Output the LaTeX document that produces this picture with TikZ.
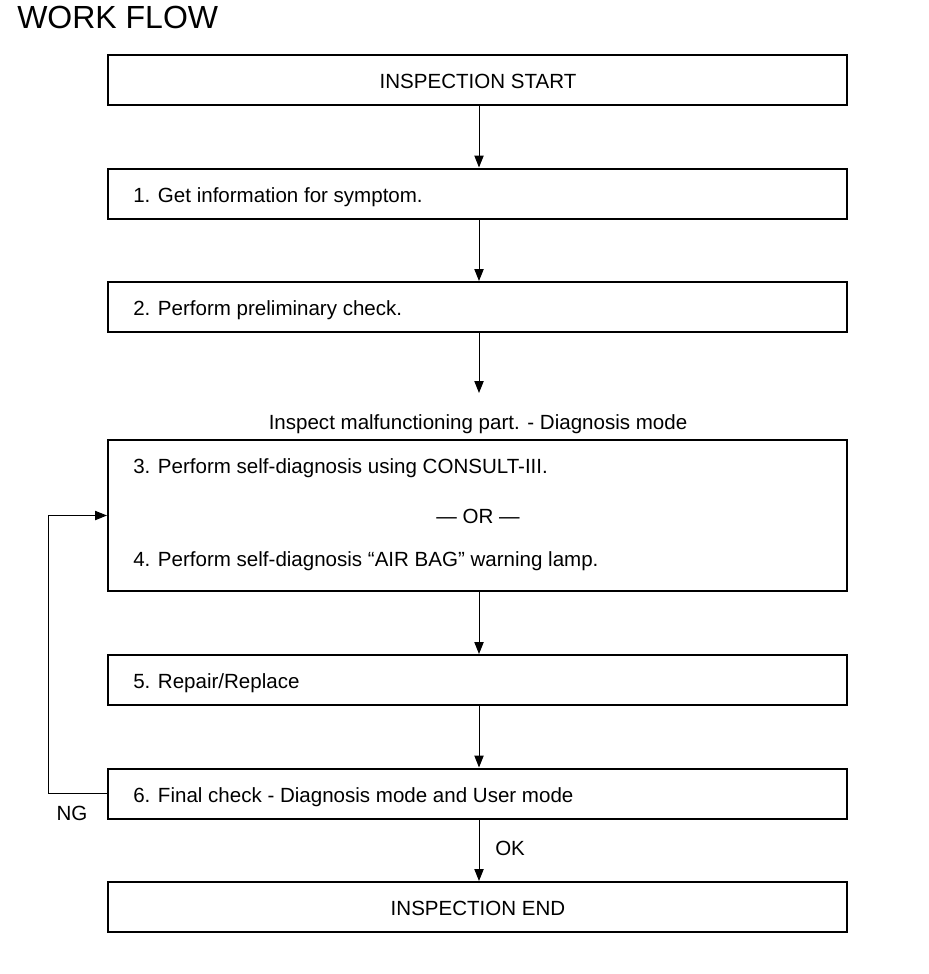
\documentclass[tikz,border=0pt]{standalone}
\usepackage{fontspec}
\setmainfont{Liberation Sans}
\usetikzlibrary{arrows.meta}
\begin{document}
\begin{tikzpicture}[x=0.75pt,y=-0.75pt,
  box/.style={draw, line width=1.5pt, minimum width=554.25pt, minimum height=37.5pt, inner sep=0pt},
  txt/.style={font=\fontsize{15.4}{18}\selectfont, inner sep=0pt},
  arr/.style={line width=0.75pt, -{Triangle[width=7pt,length=9pt]}},
  lnk/.style={line width=0.75pt}]
\useasboundingbox (0,0) rectangle (928,974);
\node[anchor=base west, inner sep=0pt, font=\fontsize{24}{28}\selectfont] (title) at (17,29) {WORK FLOW};
\coordinate (ax) at (479,0);
% boxes
\node[box] (b1) at (477.5,80) {};
\node[box] (b2) at (477.5,193.5) {};
\node[box] (b3) at (477.5,307) {};
\node[box, minimum height=113.25pt] (b4) at (477.5,515.5) {};
\node[box] (b5) at (477.5,680) {};
\node[box] (b6) at (477.5,793.5) {};
\node[box] (b7) at (477.5,907) {};
% texts
\node[txt, anchor=mid] (t1) at (478,85) {INSPECTION START};
\node[txt, anchor=mid west] (t2) at (133,199) {1. Get information for symptom.};
\node[txt, anchor=mid west] (t3) at (133,312) {2. Perform preliminary check.};
\node[txt, anchor=mid] (insp) at (478,426) {Inspect malfunctioning part. - Diagnosis mode};
\coordinate (inspin) at (479,393);
\node[txt, anchor=mid west] (t4a) at (133,470) {3. Perform self-diagnosis using CONSULT-III.};
\node[txt, anchor=mid] (tor) at (478,520) {— OR —};
\node[txt, anchor=mid west] (t4b) at (133,563) {4. Perform self-diagnosis “AIR BAG” warning lamp.};
\node[txt, anchor=mid west] (t5) at (133,685) {5. Repair/Replace};
\node[txt, anchor=mid west] (t6) at (133,799) {6. Final check - Diagnosis mode and User mode};
\node[txt, anchor=mid] (t7) at (478,912) {INSPECTION END};
\node[txt, anchor=mid] (ng) at (72,817) {NG};
\node[txt, anchor=mid west] (ok) at (495,852) {OK};
% connectors
\draw[arr] (b1.south -| ax) -- (b2.north -| ax);
\draw[arr] (b2.south -| ax) -- (b3.north -| ax);
\draw[arr] (b3.south -| ax) -- (inspin);
\draw[arr] (b4.south -| ax) -- (b5.north -| ax);
\draw[arr] (b5.south -| ax) -- (b6.north -| ax);
\draw[arr] (b6.south -| ax) -- (b7.north -| ax);
\coordinate (lp) at (48,0);
\draw[arr] (b6.west) -- (b6.west -| lp) |- (b4.west);
\end{tikzpicture}
\end{document}
